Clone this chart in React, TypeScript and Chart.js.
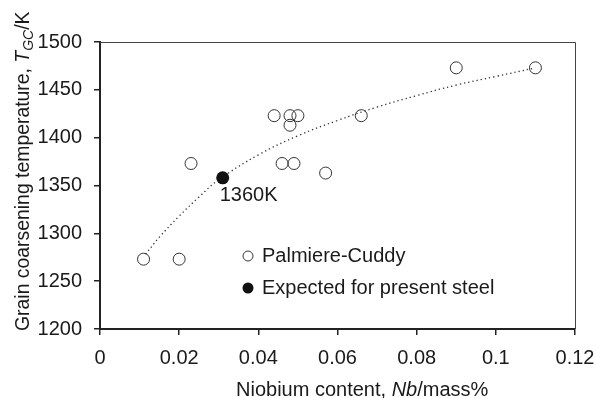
import React, { useEffect, useRef } from "react";
import { Chart, registerables } from "chart.js";

Chart.register(...registerables);

const palmiereNb = [0.011, 0.02, 0.023, 0.044, 0.048, 0.05, 0.048, 0.046, 0.049, 0.057, 0.066, 0.09, 0.11];
const palmiereT = [1273, 1273, 1373, 1423, 1423, 1423, 1413, 1373, 1373, 1363, 1423, 1473, 1473];
const presentNb = [0.031];
const presentT = [1358];
const trendNb = [0.0115, 0.015, 0.02, 0.025, 0.03, 0.04, 0.05, 0.06, 0.07, 0.08, 0.09, 0.1, 0.11];
const trendT = [1278, 1296, 1318, 1338, 1356, 1382, 1402, 1418, 1432, 1444, 1455, 1464, 1473];
const xTicks = [0, 0.02, 0.04, 0.06, 0.08, 0.1, 0.12];
const yTicks = [1200, 1250, 1300, 1350, 1400, 1450, 1500];
const legendLabels = ["Palmiere-Cuddy", "Expected for present steel"];
const pointLabel = "1360K";

const FONT = '"Liberation Sans", Arial, Helvetica, sans-serif';
const TEXT = "#1a1a1a";
const FS = 20;

function drawRich(ctx: CanvasRenderingContext2D, parts: { t: string; italic?: boolean; sub?: boolean }[], x: number, y: number, size: number) {
  let cx = x;
  for (const p of parts) {
    const s = p.sub ? size * 0.72 : size;
    ctx.font = `${p.italic ? "italic " : ""}${s}px ${FONT}`;
    ctx.fillText(p.t, cx, p.sub ? y + size * 0.22 : y);
    cx += ctx.measureText(p.t).width;
  }
}

const overlay = {
  id: "overlay",
  afterDraw(chart: any) {
    const { ctx, chartArea: a, scales } = chart;
    ctx.save();
    // top and right frame
    ctx.strokeStyle = "#444";
    ctx.lineWidth = 1;
    ctx.beginPath();
    ctx.moveTo(a.left, a.top + 0.5);
    ctx.lineTo(a.right + 0.5, a.top + 0.5);
    ctx.lineTo(a.right + 0.5, a.bottom);
    ctx.stroke();
    ctx.fillStyle = TEXT;
    ctx.textBaseline = "middle";
    ctx.textAlign = "left";
    // point label
    const px = scales.x.getPixelForValue(presentNb[0]);
    const py = scales.y.getPixelForValue(presentT[0]);
    ctx.font = `${FS}px ${FONT}`;
    ctx.fillText(pointLabel, px - 3, py + 18);
    // legend
    const lx = 248;
    const ly1 = 256;
    const ly2 = 288;
    ctx.beginPath();
    ctx.arc(lx, ly1, 5, 0, Math.PI * 2);
    ctx.strokeStyle = "#333";
    ctx.lineWidth = 1;
    ctx.stroke();
    ctx.beginPath();
    ctx.arc(lx, ly2, 5.5, 0, Math.PI * 2);
    ctx.fillStyle = "#111";
    ctx.fill();
    ctx.fillStyle = TEXT;
    ctx.font = `${FS}px ${FONT}`;
    ctx.fillText(legendLabels[0], 262, ly1);
    ctx.fillText(legendLabels[1], 262, ly2);
    // x title
    ctx.textBaseline = "alphabetic";
    drawRich(ctx, [{ t: "Niobium content, " }, { t: "Nb", italic: true }, { t: "/mass%" }], 236, 396, FS);
    // y title
    ctx.translate(29, 331);
    ctx.rotate(-Math.PI / 2);
    drawRich(
      ctx,
      [{ t: "Grain coarsening temperature, " }, { t: "T", italic: true }, { t: "GC", italic: true, sub: true }, { t: "/K" }],
      0,
      0,
      19.4
    );
    ctx.restore();
  },
};

export default function App() {
  const ref = useRef<HTMLCanvasElement | null>(null);
  useEffect(() => {
    if (!ref.current) return;
    const chart = new Chart(ref.current, {
      type: "scatter",
      data: {
        datasets: [
          {
            label: legendLabels[1],
            data: presentNb.map((x, i) => ({ x, y: presentT[i] })),
            pointRadius: 6.5,
            pointBackgroundColor: "#111",
            pointBorderColor: "#111",
            pointBorderWidth: 0,
            order: 1,
          },
          {
            label: legendLabels[0],
            data: palmiereNb.map((x, i) => ({ x, y: palmiereT[i] })),
            pointRadius: 6,
            pointBackgroundColor: "rgba(0,0,0,0)",
            pointBorderColor: "#333",
            pointBorderWidth: 1,
            order: 2,
          },
          {
            label: "trend",
            type: "line",
            data: trendNb.map((x, i) => ({ x, y: trendT[i] })),
            showLine: true,
            pointRadius: 0,
            borderColor: "#333",
            borderWidth: 1.3,
            borderDash: [1.3, 3],
            tension: 0.4,
            fill: false,
            order: 3,
          } as any,
        ],
      },
      options: {
        responsive: false,
        animation: false,
        layout: { padding: { top: 42, right: 0, left: 0, bottom: 0 } },
        plugins: { legend: { display: false }, tooltip: { enabled: false } },
        scales: {
          x: {
            type: "linear",
            min: 0,
            max: 0.12,
            afterBuildTicks: (s: any) => {
              s.ticks = xTicks.map((v) => ({ value: v }));
            },
            afterFit: (s: any) => {
              s.height = 69;
              s.paddingRight = 21;
              s.paddingLeft = 0;
            },
            ticks: {
              color: TEXT,
              font: { family: FONT, size: FS },
              padding: 11,
              maxRotation: 0,
              callback: (v: any) => String(v),
            },
            grid: { drawOnChartArea: false, drawTicks: true, tickLength: 6, color: "#222", lineWidth: 1.5 },
            border: { display: true, color: "#222", width: 2 },
          },
          y: {
            type: "linear",
            min: 1200,
            max: 1500,
            afterBuildTicks: (s: any) => {
              s.ticks = yTicks.map((v) => ({ value: v }));
            },
            afterFit: (s: any) => {
              s.width = 100;
              s.paddingTop = 0;
              s.paddingBottom = 0;
            },
            ticks: {
              color: TEXT,
              font: { family: FONT, size: FS },
              padding: 12,
              callback: (v: any) => String(v),
            },
            grid: { drawOnChartArea: false, drawTicks: true, tickLength: 6, color: "#222", lineWidth: 1.5 },
            border: { display: true, color: "#222", width: 2 },
          },
        },
      },
      plugins: [overlay],
    } as any);
    return () => chart.destroy();
  }, []);
  return (
    <div style={{ position: "absolute", left: 0, top: 0, width: 596, height: 398, background: "#fff" }}>
      <canvas ref={ref} width={596} height={398} style={{ display: "block" }} />
    </div>
  );
}
